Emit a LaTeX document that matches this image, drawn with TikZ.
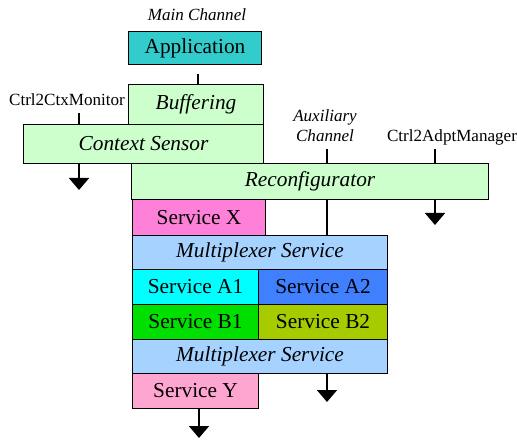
\documentclass[tikz,border=0pt]{standalone}
\usepackage{fontspec}
\setmainfont{Liberation Serif}
\usetikzlibrary{arrows.meta}

\definecolor{appteal}{HTML}{33CCCC}
\definecolor{ctlgreen}{HTML}{CCFFCC}
\definecolor{muxblue}{HTML}{A6D2FF}
\definecolor{svcxpink}{HTML}{FF80D8}
\definecolor{svcypink}{HTML}{FFA6D0}
\definecolor{acyan}{HTML}{00FFFF}
\definecolor{ablue}{HTML}{4080FF}
\definecolor{bgreen}{HTML}{00E000}
\definecolor{bolive}{HTML}{A6CC00}

\newcommand{\px}{0.75pt}

\begin{document}
\begin{tikzpicture}[x=0.75pt,y=-0.75pt,
  blk/.style={draw,line width=0.8pt,anchor=north west,inner sep=0pt,
    font=\fontsize{16}{18}\selectfont},
  lbl/.style={inner sep=0pt,font=\fontsize{12.8}{15}\selectfont},
  wire/.style={line width=1.3pt},
  outwire/.style={wire,-{Triangle[width=15pt,length=9pt]}}]
\useasboundingbox (0,0) rectangle (517,441);
% labels
\node[lbl,font=\fontsize{12.8}{15}\itshape] (mainlbl) at (197,15) {Main Channel};
\node[lbl] (ctxlbl) at (67,100) {Ctrl2CtxMonitor};
\node[lbl,font=\fontsize{12.8}{15}\itshape,align=center] (auxlbl) at (325,126) {Auxiliary\\Channel};
\node[lbl] (adptlbl) at (452,137) {Ctrl2AdptManager};
% blocks
\node[blk,fill=appteal,minimum width=133*\px,minimum height=33*\px] (app) at (128,31) {Application};
\node[blk,fill=ctlgreen,minimum width=135*\px,minimum height=40*\px,font=\fontsize{16}{18}\itshape] (buffer) at (128,84) {Buffering};
\node[blk,fill=ctlgreen,minimum width=240*\px,minimum height=39*\px,font=\fontsize{16}{18}\itshape] (ctxsensor) at (23,124) {Context Sensor};
\node[blk,fill=ctlgreen,minimum width=357*\px,minimum height=36*\px,font=\fontsize{16}{18}\itshape] (recon) at (131,163) {Reconfigurator};
\node[blk,fill=svcxpink,minimum width=133*\px,minimum height=36*\px] (svcx) at (132,199) {Service X};
\node[blk,fill=muxblue,minimum width=255*\px,minimum height=34*\px,font=\fontsize{16}{18}\itshape] (mux1) at (132,235) {Multiplexer Service};
\node[blk,fill=acyan,minimum width=126*\px,minimum height=35*\px] (a1) at (132,269) {Service A1};
\node[blk,fill=ablue,minimum width=129*\px,minimum height=35*\px] (a2) at (258,269) {Service A2};
\node[blk,fill=bgreen,minimum width=126*\px,minimum height=35*\px] (b1) at (132,304) {Service B1};
\node[blk,fill=bolive,minimum width=129*\px,minimum height=35*\px] (b2) at (258,304) {Service B2};
\node[blk,fill=muxblue,minimum width=255*\px,minimum height=34*\px,font=\fontsize{16}{18}\itshape] (mux2) at (132,339) {Multiplexer Service};
\node[blk,fill=svcypink,minimum width=126*\px,minimum height=35*\px] (svcy) at (132,373) {Service Y};
% free ends
\coordinate (appin) at (198,74);
\coordinate (ctxin) at (79,113);
\coordinate (ctxout) at (79,190);
\coordinate (auxin) at (327,149);
\coordinate (adptin) at (435,149);
\coordinate (adptout) at (435,225);
\coordinate (muxout) at (327,402);
\coordinate (yout) at (199,438);
% connectors
\draw[wire] (appin) -- (appin |- buffer.north);
\draw[wire] (ctxin) -- (ctxin |- ctxsensor.north);
\draw[outwire] (ctxout |- ctxsensor.south) -- (ctxout);
\draw[wire] (auxin) -- (auxin |- recon.north);
\draw[wire] (adptin) -- (adptin |- recon.north);
\draw[outwire] (adptout |- recon.south) -- (adptout);
\draw[wire] (auxin |- recon.south) -- (auxin |- mux1.north);
\draw[outwire] (muxout |- mux2.south) -- (muxout);
\draw[outwire] (yout |- svcy.south) -- (yout);
\end{tikzpicture}
\end{document}
